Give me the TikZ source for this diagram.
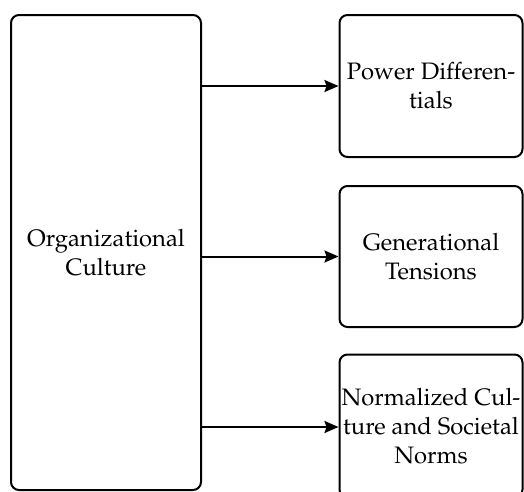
\documentclass[tikz,border=0pt]{standalone}
\usepackage[T1]{fontenc}
\usepackage{mathpazo}
\renewcommand{\rmdefault}{ppl}
\usetikzlibrary{arrows.meta}
\begin{document}
\begin{tikzpicture}[x=1pt,y=-1pt,
  box/.style={draw=black, line width=2pt, rounded corners=8pt, align=center,
    font=\fontfamily{ppl}\fontsize{23.8}{29}\selectfont, inner sep=0pt},
  conn/.style={line width=2pt, -{Stealth[length=14pt,width=12pt,inset=2pt]}}]
\useasboundingbox (0,0) rectangle (524,491);
\clip (0,0) rectangle (524,491);
\node[box, minimum width=190pt, minimum height=475pt] (oc) at (106,252.5) {Organizational\\Culture};
\node[box, minimum width=183pt, minimum height=142pt] (pd) at (431,86) {Power Differen-\\tials};
\node[box, minimum width=183pt, minimum height=141pt] (gt) at (431,256.5) {Generational\\Tensions};
\node[box, minimum width=183pt, minimum height=143pt] (nc) at (431,426) {Normalized Cul-\\ture and Societal\\Norms};
\draw[conn] (oc.east |- pd.west) -- (pd.west);
\draw[conn] (oc.east |- gt.west) -- (gt.west);
\draw[conn] ([yshift=-1pt]oc.east |- nc.west) -- ([yshift=-1pt]nc.west);
\end{tikzpicture}
\end{document}
